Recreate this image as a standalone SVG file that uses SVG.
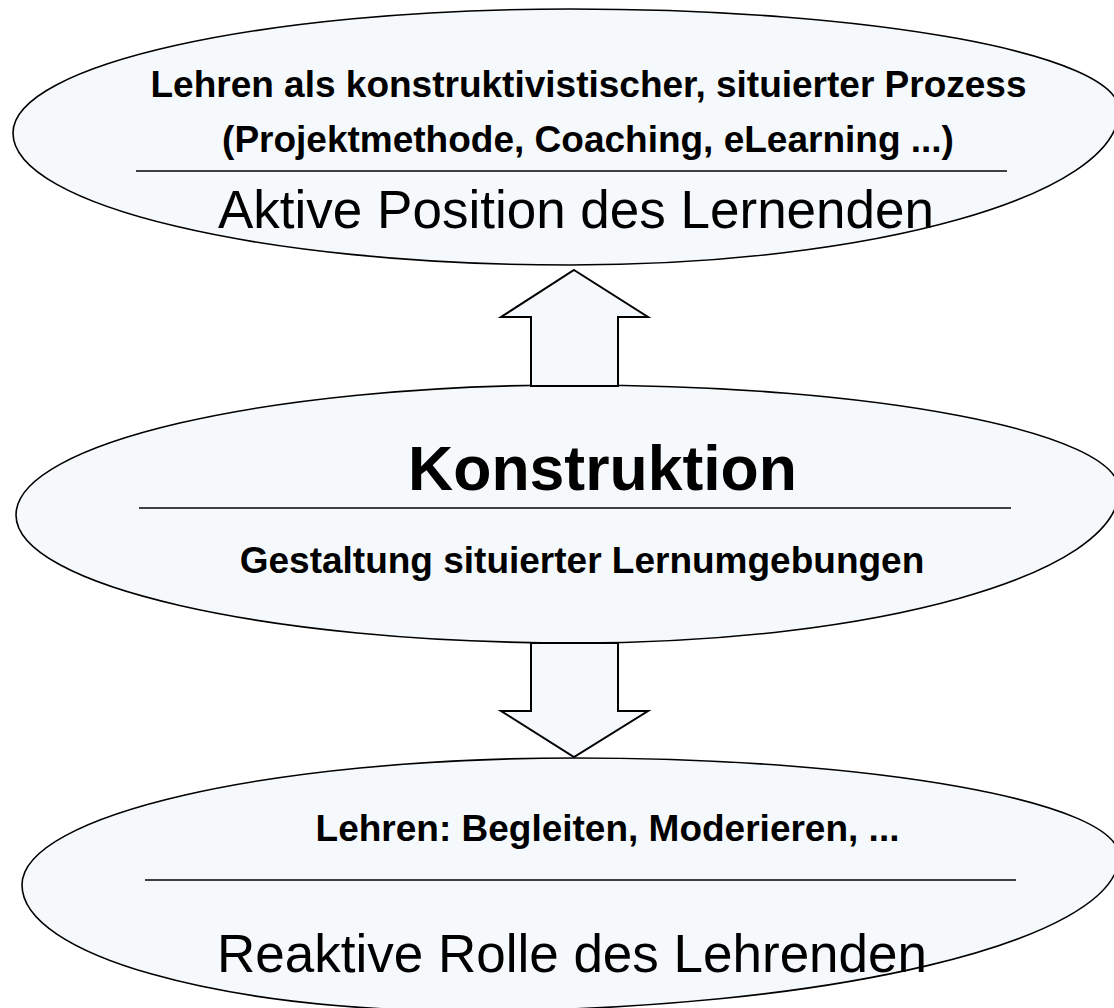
<svg xmlns="http://www.w3.org/2000/svg" width="1114" height="1008" viewBox="0 0 1114 1008">
<style>
.shape{fill:#f5f9fb;stroke:#000;stroke-width:1.6}
.arrow{fill:#f5f9fb;stroke:#000;stroke-width:2}
.sep{stroke:#000;stroke-width:1.6}
.b{font-family:"Liberation Sans",Arial,sans-serif;font-weight:bold;font-size:37px;fill:#000;text-anchor:middle}
.r{font-family:"Liberation Sans",Arial,sans-serif;font-size:53px;fill:#000;text-anchor:middle}
.k{font-family:"Liberation Sans",Arial,sans-serif;font-weight:bold;font-size:62.5px;fill:#000;text-anchor:middle}
</style>
<rect width="1114" height="1008" fill="#fff"/>
<g id="node-aktiv">
<path class="shape" d="M13,133 C13,64.5 262.4,9 570,9 C873.2,9 1119,54.2 1119,110 C1119,195.6 873.2,265 570,265 C262.4,265 13,205.9 13,133 Z"/>
<text class="b" x="588.5" y="97">Lehren als konstruktivistischer, situierter Prozess</text>
<text class="b" x="588" y="152">(Projektmethode, Coaching, eLearning ...)</text>
<line class="sep" x1="136" y1="171" x2="1007" y2="171"/>
<text class="r" x="576" y="228">Aktive Position des Lernenden</text>
</g>
<g id="node-konstruktion">
<path class="shape" d="M16,515 C16,443.2 266.3,385 575,385 C875.5,385 1119,432 1119,490 C1119,574.5 875.5,643 575,643 C266.3,643 16,585.7 16,515 Z"/>
<text class="k" x="602.5" y="490">Konstruktion</text>
<line class="sep" x1="139" y1="508" x2="1011" y2="508"/>
<text class="b" x="582" y="573">Gestaltung situierter Lernumgebungen</text>
</g>
<g id="node-reaktiv">
<path class="shape" d="M22,885 C22,814.9 269.6,758 575,758 C875.5,758 1119,801.9 1119,856 C1119,941.6 826.2,1011 465,1011 C220.3,1011 22,954.6 22,885 Z"/>
<text class="b" x="607.5" y="841">Lehren: Begleiten, Moderieren, ...</text>
<line class="sep" x1="145" y1="880" x2="1016" y2="880"/>
<text class="r" x="572" y="972">Reaktive Rolle des Lehrenden</text>
</g>
<g id="connectors">
<polygon class="arrow" points="574,270 648,317 618,317 618,386 531,386 531,317 501,317"/>
<polygon class="arrow" points="531,643 618,643 618,711 648,711 574,757 501,711 531,711"/>
</g>
</svg>
